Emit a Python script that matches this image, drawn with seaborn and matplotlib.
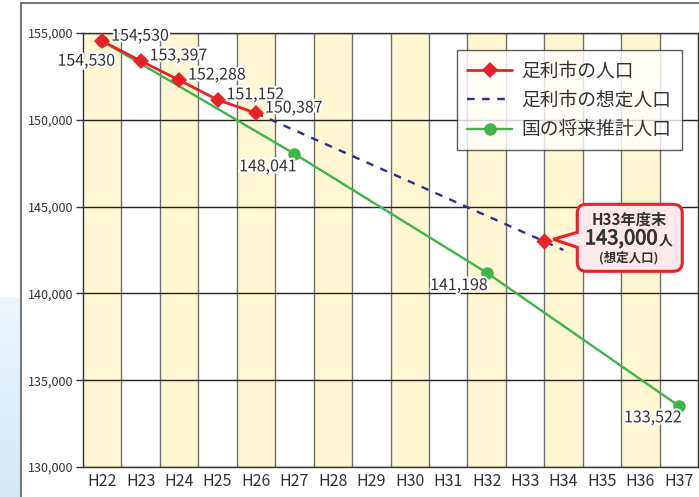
import matplotlib
matplotlib.use("Agg")
import matplotlib.pyplot as plt
import matplotlib.patheffects as pe
from matplotlib.path import Path
from matplotlib.patches import PathPatch
from matplotlib.transforms import IdentityTransform, ScaledTranslation
import numpy as np
import pandas as pd
import seaborn as sns

# ---------------- data ----------------
categories = ['H22', 'H23', 'H24', 'H25', 'H26', 'H27', 'H28', 'H29',
              'H30', 'H31', 'H32', 'H33', 'H34', 'H35', 'H36', 'H37']

city_years = ['H22', 'H23', 'H24', 'H25', 'H26']
city_pop = [154530, 153397, 152288, 151152, 150387]

assumed_years = ['H26', 'H34']
assumed_pop = [150387, 142500]

target_year = 'H33'          # end of fiscal year H33
target_pop = 143000

national_years = ['H22', 'H27', 'H32', 'H37']
national_pop = [154530, 148041, 141198, 133522]

y_ticks = [130000, 135000, 140000, 145000, 150000, 155000]

legend_labels = ['足利市の人口', '足利市の想定人口', '国の将来推計人口']
callout_lines = ['H33年度末', '143,000', '人', '(想定人口)']

# ---------------- style ----------------
sns.set_theme(style='white')
plt.rcParams['font.family'] = ['Noto Sans CJK JP', 'DejaVu Sans']

RED = '#E8212B'
GREEN = '#3DB54A'
NAVY = '#2B2F8F'
YELLOW = '#FFF8D3'
TXT = '#333333'

pos = {c: i for i, c in enumerate(categories)}

city_df = pd.DataFrame({'x': [pos[y] for y in city_years], 'pop': city_pop})
assumed_df = pd.DataFrame({'x': [pos[y] for y in assumed_years], 'pop': assumed_pop})
nat_df = pd.DataFrame({'x': [pos[y] for y in national_years], 'pop': national_pop})

fig = plt.figure(figsize=(6.99, 4.97), dpi=100)
ax = fig.add_axes([83 / 699, 1 - 467 / 497, 615 / 699, 434 / 497])

# outer frame + blue decoration
fig.add_artist(plt.Line2D([21 / 699, 21 / 699], [0, 1 - 3 / 497], transform=fig.transFigure,
                          color='#7a7a7a', lw=1.5))
fig.add_artist(plt.Line2D([21 / 699, 1], [1 - 3 / 497, 1 - 3 / 497], transform=fig.transFigure,
                          color='#7a7a7a', lw=1.5))
gax = fig.add_axes([0, 0, 20 / 699, 200 / 497])
grad = np.linspace(0, 1, 100).reshape(-1, 1)
gax.imshow(grad, aspect='auto', cmap=matplotlib.colors.LinearSegmentedColormap.from_list(
    'b', ['#EEF5FB', '#D5E8F5']), origin='upper')
gax.axis('off')

# bands
for i, c in enumerate(categories):
    if i % 2 == 0:
        ax.axvspan(i - 0.5, i + 0.5, color=YELLOW, lw=0, zorder=0)
for i in range(len(categories) - 1):
    ax.axvline(i + 0.5, color='#707070', lw=1.0, zorder=1)
for t in y_ticks:
    ax.axhline(t, color='#222222', lw=1.0, zorder=1)

# lines
sns.lineplot(data=nat_df, x='x', y='pop', ax=ax, color=GREEN, lw=1.7, marker='o',
             markersize=9, markeredgewidth=0, zorder=3, label=legend_labels[2])
sns.lineplot(data=assumed_df, x='x', y='pop', ax=ax, color=NAVY, lw=1.7,
             zorder=3, label=legend_labels[1])
ax.lines[-1].set_dashes([3.2, 3.2])
sns.lineplot(data=city_df, x='x', y='pop', ax=ax, color=RED, lw=2.0, marker='D',
             markersize=8, markeredgewidth=0, zorder=4, label=legend_labels[0])
target_x = pos[target_year] + 0.5
sns.scatterplot(x=[target_x], y=[target_pop], ax=ax, color=RED, marker='D', s=70,
                linewidth=0, zorder=5)

# data labels
halo = [pe.withStroke(linewidth=3, foreground='white')]
for y, v in zip(city_years, city_pop):
    ax.annotate(f'{v:,}', (pos[y], v), xytext=(9, 5), textcoords='offset pixels',
                ha='left', va='center', fontsize=11.5, color=TXT, path_effects=halo, zorder=6)
green_offsets = [(13, -20), (2, -13), (1, -13), (3, -12)]
for (y, v), off in zip(zip(national_years, national_pop), green_offsets):
    ax.annotate(f'{v:,}', (pos[y], v), xytext=off, textcoords='offset pixels',
                ha='right', va='center', fontsize=11.5, color=TXT, path_effects=halo, zorder=6)

# callout
tr = IdentityTransform() + ScaledTranslation(target_x, target_pop, ax.transData)
x0, x1, y0, y1, r = 33, 138, -30, 37, 9
verts = [(x0, 9), (x0, y1 - r), (x0, y1), (x0 + r, y1), (x1 - r, y1), (x1, y1), (x1, y1 - r),
         (x1, y0 + r), (x1, y0), (x1 - r, y0), (x0 + r, y0), (x0, y0), (x0, y0 + r),
         (x0, -6), (9, 2), (x0, 9)]
codes = [Path.MOVETO, Path.LINETO, Path.CURVE3, Path.CURVE3, Path.LINETO, Path.CURVE3, Path.CURVE3,
         Path.LINETO, Path.CURVE3, Path.CURVE3, Path.LINETO, Path.CURVE3, Path.CURVE3,
         Path.LINETO, Path.LINETO, Path.CLOSEPOLY]
ax.add_artist(PathPatch(Path(verts, codes), transform=tr, facecolor='#FDE8EB', edgecolor=RED,
                        lw=2.2, zorder=7, clip_on=False))
ax.annotate(callout_lines[0], (target_x, target_pop), xytext=(85, 22), textcoords='offset pixels',
            ha='center', va='center', fontsize=11, fontweight='bold', color=TXT, zorder=8)
ax.annotate(callout_lines[1], (target_x, target_pop), xytext=(113, -3), textcoords='offset pixels',
            ha='right', va='baseline', fontsize=14.5, color=TXT, zorder=8,
            path_effects=[pe.withStroke(linewidth=0.6, foreground=TXT)])
ax.annotate(callout_lines[2], (target_x, target_pop), xytext=(114, -3), textcoords='offset pixels',
            ha='left', va='baseline', fontsize=10, fontweight='bold', color=TXT, zorder=8)
ax.annotate(callout_lines[3], (target_x, target_pop), xytext=(84, -16), textcoords='offset pixels',
            ha='center', va='center', fontsize=9, fontweight='bold', color=TXT, zorder=8)

# axes
ax.set_xlim(-0.5, len(categories) - 0.5)
ax.set_ylim(y_ticks[0], y_ticks[-1])
ax.set_xticks(range(len(categories)))
ax.set_xticklabels(categories)
ax.set_xticks([i - 0.5 for i in range(2, len(categories), 2)], minor=True)
ax.set_yticks(y_ticks)
ax.set_yticklabels([f'{t:,}' for t in y_ticks])
ax.tick_params(axis='x', which='major', length=0, labelsize=11.5, labelcolor=TXT, pad=4)
ax.tick_params(axis='x', which='minor', length=5, width=1, color='#707070', direction='out')
ax.tick_params(axis='y', length=5, width=1, color='#333333', labelsize=9, labelcolor=TXT,
               direction='out', pad=2, left=True)
ax.set_xlabel('')
ax.set_ylabel('')
for s in ax.spines.values():
    s.set_visible(True)
    s.set_color('#333333')
    s.set_linewidth(1.0)

# legend
h, l = ax.get_legend_handles_labels()
order = [l.index(t) for t in legend_labels]
leg = ax.legend([h[i] for i in order], [l[i] for i in order], loc='upper right',
                bbox_to_anchor=(0.974, 0.961), borderaxespad=0, frameon=True, fancybox=False,
                fontsize=13.5, handlelength=2.4, labelspacing=0.45, borderpad=0.55,
                handletextpad=0.5)
leg.get_frame().set_edgecolor('#333333')
leg.get_frame().set_linewidth(1.0)
leg.set_zorder(9)
for t in leg.get_texts():
    t.set_color(TXT)

fig.savefig('out.png', dpi=100)
